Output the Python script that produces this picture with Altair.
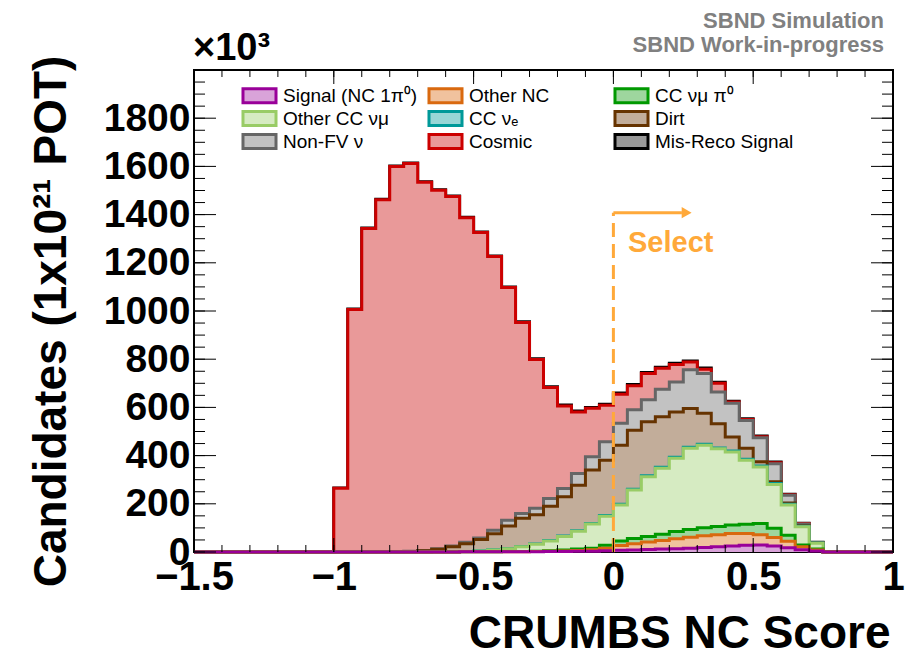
import altair as alt
import numpy as np
import pandas as pd

# ---------------- data ----------------
BIN_START = -1.0
BIN_WIDTH = 0.05
X_MIN, X_MAX = -1.5, 1.0
Y_MAX = 2000

series_names = ["Signal (NC 1π⁰)", "Other NC", "CC νμ π⁰",
                "Other CC νμ", "CC νₑ", "Dirt",
                "Non-FV ν", "Cosmic", "Mis-Reco Signal"]

fill_colors = ["#D9A3D9", "#F0C29E", "#9ED69E", "#D6EBC2", "#99D6D6",
               "#C2AD9A", "#C2C2C2", "#E99999", "#999999"]
stroke_colors = ["#990099", "#D9690F", "#009900", "#99CC66", "#009999",
                 "#663300", "#666666", "#CC0000", "#000000"]

# events per bin (bins of 0.05 starting at -1.0), in units of 10^3
signal = [0, 0, 0, 0, 0, 0, 0, 0, 0, 1, 1, 1, 1, 1, 1, 2, 2, 3, 3, 5, 7, 8, 10, 12,
          14, 16, 19, 22, 25, 28, 29, 25, 18, 9, 4]
other_nc = [0, 0, 0, 0, 0, 0, 0, 0, 0, 0, 0, 0, 0, 0, 1, 1, 2, 3, 6, 11, 20, 26, 31,
            36, 41, 45, 48, 50, 52, 49, 43, 35, 27, 13, 4]
cc_numu_pi0 = [0, 0, 0, 0, 0, 0, 0, 0, 0, 0, 0, 0, 1, 1, 1, 2, 4, 6, 7, 12, 19, 22,
               23, 26, 30, 32, 34, 34, 35, 38, 46, 39, 25, 7, 4]
other_cc_numu = [0, 0, 0, 0, 0, 0, 0, 1, 1, 1, 3, 7, 12, 20, 29, 41, 56, 74, 100, 120,
                 149, 201, 248, 274, 304, 338, 342, 322, 303, 266, 235, 181, 125, 76, 24]
cc_nue = [0, 0, 0, 0, 0, 0, 0, 0, 0, 0, 1, 1, 1, 1, 1, 2, 2, 2, 2, 3, 3, 3, 4, 4, 4,
          4, 4, 4, 4, 4, 4, 4, 3, 2, 1]
dirt = [0, 0, 0, 1, 1, 2, 5, 10, 21, 32, 47, 67, 93, 117, 122, 142, 163, 189, 222, 230,
        245, 245, 224, 209, 188, 160, 129, 100, 58, 46, 17, 8, 5, 2, 0]
non_fv = [0, 0, 1, 0, 1, 1, 1, 2, 3, 6, 6, 14, 24, 20, 27, 32, 35, 49, 55, 76, 91, 85,
          92, 114, 124, 161, 165, 132, 140, 115, 100, 74, 32, 7, 1]
cosmic = [265, 1006, 1341, 1461, 1598, 1609, 1528, 1488, 1450, 1347, 1268, 1136, 965,
          792, 617, 461, 342, 255, 201, 152, 121, 100, 109, 87, 73, 32, 17, 36, 5, 4,
          4, 4, 3, 2, 1]
mis_reco = [1, 2, 2, 2, 2, 2, 2, 2, 2, 2, 2, 2, 3, 3, 3, 3, 4, 4, 4, 4, 5, 5, 4, 5, 5,
            5, 5, 4, 4, 3, 3, 3, 2, 1, 1]

components = [signal, other_nc, cc_numu_pi0, other_cc_numu, cc_nue, dirt,
              non_fv, cosmic, mis_reco]

y_tick_labels = [0, 200, 400, 600, 800, 1000, 1200, 1400, 1600, 1800]
x_tick_labels = [-1.5, -1.0, -0.5, 0.0, 0.5, 1.0]
y_minor_ticks = list(range(0, 2001, 50))
x_minor_ticks = [round(-1.5 + 0.1 * i, 2) for i in range(26)]

cut_value = 0.0
cut_top = 1408
arrow_end = 0.245
arrow_head = 0.262
select_x = 0.205
select_y = 1245

ORANGE = "#FFA93A"
FONT = "Liberation Sans, Arial"

# ---------------- stacked step histograms ----------------
counts = np.array(components, dtype=float)
cum = np.cumsum(counts, axis=0)
n_bins = counts.shape[1]
left_edges = BIN_START + BIN_WIDTH * np.arange(n_bins)
end_edge = BIN_START + BIN_WIDTH * n_bins

rows = []
for k, name in enumerate(series_names):
    rows.append({"series": name, "x": X_MIN, "top": 0.0})
    for i in range(n_bins):
        rows.append({"series": name, "x": round(float(left_edges[i]), 4), "top": float(cum[k, i])})
    rows.append({"series": name, "x": round(float(end_edge), 4), "top": 0.0})
    rows.append({"series": name, "x": X_MAX, "top": 0.0})
hist_df = pd.DataFrame(rows)

W, H = 699, 482
xscale = alt.Scale(domain=[X_MIN, X_MAX], nice=False, zero=False)
yscale = alt.Scale(domain=[0, Y_MAX], nice=False)

x_axis = alt.Axis(values=x_tick_labels, format="~g", labelFont=FONT, labelFontSize=40,
                  labelFontWeight="bold", labelColor="black", labelPadding=5,
                  ticks=False, domain=False, grid=False, labelFlush=False,
                  title="CRUMBS NC Score", titleFont=FONT, titleFontSize=46,
                  titleFontWeight="bold", titleColor="black", titleAnchor="end",
                  titleAlign="right", titleX=W - 3, titleY=95,
                  titleBaseline="alphabetic", labelOverlap=False)
y_axis = alt.Axis(values=y_tick_labels, format="d", labelFont=FONT,
                  labelFontSize=39, labelFontWeight="bold", labelColor="black",
                  labelPadding=4, ticks=False, domain=False, grid=False,
                  title="Candidates (1x10²¹ POT)", titleFont=FONT,
                  titleFontSize=46, titleFontWeight="bold", titleColor="black",
                  titleAngle=-90, titleX=-143, titleY=251, titleAlign="center",
                  titleBaseline="middle", labelOverlap=False)


def X(field):
    return alt.X(field, scale=xscale, axis=x_axis)


def Y(field):
    return alt.Y(field, scale=yscale, axis=y_axis)


layers = []
for k in reversed(range(len(series_names))):
    name = series_names[k]
    base = alt.Chart(hist_df).transform_filter(alt.datum.series == name)
    area = base.mark_area(interpolate="step-after", color=fill_colors[k],
                          opacity=1).encode(x=X("x:Q"), y=Y("top:Q"), y2=alt.datum(0))
    line = base.mark_line(interpolate="step-after", color=stroke_colors[k],
                          strokeWidth=3).encode(x=X("x:Q"), y=Y("top:Q"))
    layers += [area, line]

# ---------------- selection annotation ----------------
cut_df = pd.DataFrame({"x": [cut_value], "y": [0], "y2": [cut_top],
                       "xe": [arrow_end], "xh": [arrow_head],
                       "tx": [select_x], "ty": [select_y], "label": ["Select"]})
cut_line = alt.Chart(cut_df).mark_rule(color=ORANGE, strokeWidth=3,
                                       strokeDash=[14, 7]).encode(
    x=X("x:Q"), y=Y("y:Q"), y2="y2:Q")
arrow_line = alt.Chart(cut_df).mark_rule(color=ORANGE, strokeWidth=3).encode(
    x=X("x:Q"), x2="xe:Q", y=Y("y2:Q"))
arrow_tip = alt.Chart(cut_df).mark_point(shape="triangle-right", filled=True,
                                         color=ORANGE, size=130, opacity=1).encode(
    x=X("xh:Q"), y=Y("y2:Q"))
select_text = alt.Chart(cut_df).mark_text(color=ORANGE, font=FONT, fontSize=29,
                                          fontWeight="bold", align="center",
                                          baseline="alphabetic").encode(
    x=X("tx:Q"), y=Y("ty:Q"), text="label:N")
layers += [cut_line, arrow_line, arrow_tip, select_text]

# ---------------- inward ROOT-style ticks ----------------
ymin_df = pd.DataFrame({"v": y_minor_ticks})
ymaj_df = pd.DataFrame({"v": [v for v in y_minor_ticks if v % 200 == 0]})
xmin_df = pd.DataFrame({"v": x_minor_ticks})
xmaj_df = pd.DataFrame({"v": [v for v in x_minor_ticks if abs(v * 2 - round(v * 2)) < 1e-9]})


def yticks(df, length):
    out = []
    for x0, x1 in [(0, length), (W, W - length)]:
        out.append(alt.Chart(df).mark_rule(color="black", strokeWidth=1).encode(
            y=Y("v:Q"), x=alt.value(x0), x2=alt.value(x1)))
    return out


def xticks(df, length):
    out = []
    for y0, y1 in [(H, H - length), (0, length)]:
        out.append(alt.Chart(df).mark_rule(color="black", strokeWidth=1).encode(
            x=X("v:Q"), y=alt.value(y0), y2=alt.value(y1)))
    return out


layers += yticks(ymin_df, 11) + yticks(ymaj_df, 22) + xticks(xmin_df, 7) + xticks(xmaj_df, 14)

# ---------------- legend (native, 3 columns) ----------------
RECT = "M-2.54,-1.08H2.54V1.08H-2.54Z"
leg = alt.Legend(title=None, orient="none", legendX=56, legendY=16, columns=3,
                 direction="horizontal", gridAlign="all",
                 symbolType=RECT, symbolSize=169, symbolStrokeWidth=3,
                 symbolOpacity=1, labelFont=FONT, labelFontSize=19,
                 labelColor="black", columnPadding=0, rowPadding=-21,
                 labelOffset=14, labelLimit=300)
legend_df = pd.DataFrame({"series": series_names})
legend_layer = alt.Chart(legend_df).mark_point(shape=RECT, filled=True, opacity=1).encode(
    fill=alt.Fill("series:N", scale=alt.Scale(domain=series_names, range=fill_colors),
                  legend=leg, sort=series_names),
    stroke=alt.Stroke("series:N", scale=alt.Scale(domain=series_names, range=stroke_colors),
                      legend=leg, sort=series_names),
).transform_filter("false")
layers.append(legend_layer)

# ---------------- header texts ----------------
exp_text = alt.Chart(pd.DataFrame({"t": ["×10³"]})).mark_text(
    font=FONT, fontSize=38, fontWeight="bold", align="left", baseline="alphabetic",
    color="black").encode(x=alt.value(-1), y=alt.value(-10), text="t:N")
sb1 = alt.Chart(pd.DataFrame({"t": ["SBND Simulation"]})).mark_text(
    font=FONT, fontSize=22, fontWeight="bold", align="right", baseline="alphabetic",
    color="#808080").encode(x=alt.value(690), y=alt.value(-42), text="t:N")
sb2 = alt.Chart(pd.DataFrame({"t": ["SBND Work-in-progress"]})).mark_text(
    font=FONT, fontSize=22, fontWeight="bold", align="right", baseline="alphabetic",
    color="#808080").encode(x=alt.value(690), y=alt.value(-18), text="t:N")
layers += [exp_text, sb1, sb2]

chart = alt.layer(*layers).properties(
    width=W, height=H,
    padding={"left": 194, "top": 70, "right": 12, "bottom": 100},
    autosize=alt.AutoSizeParams(type="none"),
    background="white",
).configure_view(stroke="black", strokeWidth=2).configure_axis(grid=False)

chart.save("out.html", embed_options={"renderer": "svg", "actions": False})
